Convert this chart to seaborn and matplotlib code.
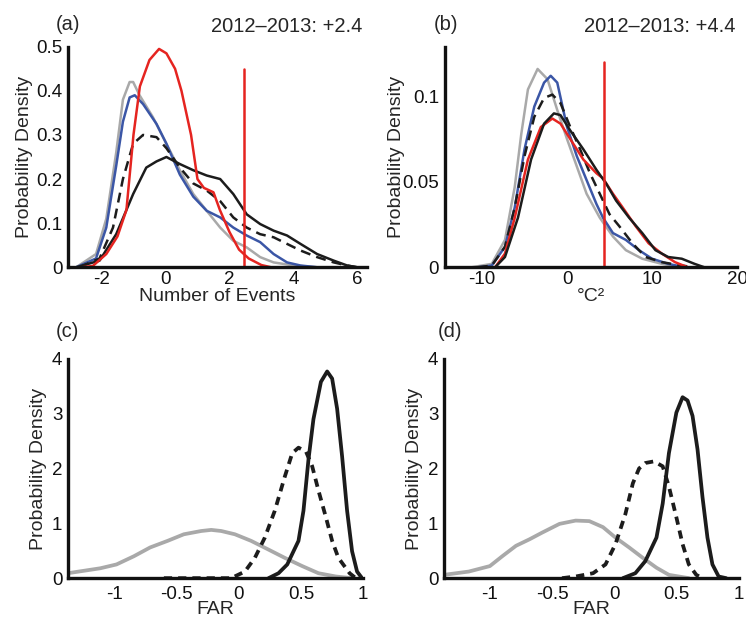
import matplotlib
matplotlib.use("Agg")
import matplotlib.pyplot as plt
import seaborn as sns

# panel (a): number of events
a_red_x = [-2.6, -2.27, -1.85, -1.5, -1.22, -1.0, -0.8, -0.5, -0.2, 0.03, 0.3, 0.5, 0.8, 1.0, 1.2, 1.5, 1.7, 2.0, 2.3, 2.6, 3.0, 3.3]
a_red_y = [0.0, 0.003, 0.03, 0.07, 0.13, 0.30, 0.41, 0.47, 0.495, 0.485, 0.45, 0.40, 0.30, 0.20, 0.18, 0.17, 0.13, 0.08, 0.04, 0.02, 0.005, 0.0]
a_gray_x = [-2.79, -2.17, -1.85, -1.54, -1.33, -1.12, -1.01, -0.81, -0.39, 0.03, 0.45, 0.87, 1.29, 1.71, 2.12, 2.54, 2.96, 3.38, 4.01, 4.74]
a_gray_y = [0.0, 0.03, 0.11, 0.26, 0.38, 0.42, 0.42, 0.39, 0.34, 0.28, 0.22, 0.166, 0.128, 0.09, 0.06, 0.045, 0.023, 0.011, 0.004, 0.0]
a_blue_x = [-2.79, -2.17, -1.85, -1.54, -1.33, -1.12, -0.96, -0.7, -0.28, 0.03, 0.45, 0.87, 1.29, 1.71, 2.12, 2.54, 2.96, 3.38, 3.8, 4.22, 4.74]
a_blue_y = [0.0, 0.02, 0.09, 0.23, 0.33, 0.385, 0.39, 0.37, 0.325, 0.28, 0.21, 0.16, 0.128, 0.113, 0.09, 0.072, 0.057, 0.03, 0.011, 0.004, 0.0]
a_dash_x = [-2.69, -2.06, -1.64, -1.33, -1.01, -0.70, -0.28, 0.03, 0.45, 0.87, 1.29, 1.71, 2.12, 2.54, 2.96, 3.38, 3.8, 4.22, 4.74, 5.26, 5.68, 5.99]
a_dash_y = [0.0, 0.02, 0.09, 0.20, 0.28, 0.30, 0.295, 0.27, 0.226, 0.19, 0.174, 0.15, 0.113, 0.09, 0.075, 0.068, 0.053, 0.038, 0.023, 0.011, 0.004, 0.0]
a_black_x = [-2.79, -2.06, -1.54, -1.01, -0.60, -0.28, 0.03, 0.45, 0.87, 1.29, 1.71, 2.12, 2.54, 2.96, 3.38, 3.8, 4.22, 4.74, 5.26, 5.68, 5.99]
a_black_y = [0.0, 0.015, 0.075, 0.166, 0.226, 0.24, 0.25, 0.234, 0.22, 0.208, 0.20, 0.166, 0.12, 0.098, 0.083, 0.072, 0.053, 0.03, 0.015, 0.004, 0.0]
a_obs = 2.45
a_obs_top = 0.45

# panel (b): degrees C squared
b_gray_x = [-11.2, -8.85, -7.3, -6.15, -5.38, -4.6, -3.46, -2.3, -1.15, 0.0, 1.15, 2.3, 3.85, 5.4, 6.92, 8.85, 11.15, 13.5]
b_gray_y = [0.0, 0.002, 0.016, 0.047, 0.078, 0.104, 0.116, 0.11, 0.092, 0.075, 0.059, 0.043, 0.029, 0.018, 0.01, 0.005, 0.002, 0.0]
b_blue_x = [-10.5, -8.85, -7.3, -6.15, -5.0, -3.85, -2.7, -1.92, -1.15, 0.0, 1.15, 2.3, 3.46, 4.23, 5.4, 6.92, 8.46, 10.0, 11.9, 13.85]
b_blue_y = [0.0, 0.001, 0.012, 0.035, 0.069, 0.094, 0.108, 0.112, 0.108, 0.082, 0.065, 0.051, 0.037, 0.029, 0.02, 0.016, 0.01, 0.005, 0.002, 0.0]
b_dash_x = [-10.5, -8.85, -7.3, -6.15, -5.0, -3.85, -2.7, -1.73, -0.77, 0.38, 1.54, 2.7, 3.85, 5.0, 6.15, 7.7, 9.23, 11.15, 13.5, 15.0]
b_dash_y = [0.0, 0.001, 0.012, 0.035, 0.065, 0.088, 0.099, 0.101, 0.096, 0.082, 0.069, 0.055, 0.043, 0.031, 0.024, 0.014, 0.006, 0.003, 0.001, 0.0]
b_red_x = [-8.46, -7.3, -6.15, -4.6, -3.08, -1.73, -0.77, 0.38, 1.92, 3.46, 4.23, 5.4, 6.54, 8.08, 9.6, 11.15, 12.7, 14.2]
b_red_y = [0.0, 0.008, 0.029, 0.063, 0.082, 0.087, 0.084, 0.075, 0.063, 0.055, 0.052, 0.043, 0.035, 0.024, 0.014, 0.008, 0.003, 0.0]
b_black_x = [-8.46, -7.3, -5.77, -4.23, -2.7, -1.54, -0.77, 0.38, 1.92, 3.46, 4.6, 5.77, 7.3, 8.85, 10.4, 11.9, 13.5, 15.0, 16.15]
b_black_y = [0.0, 0.006, 0.029, 0.063, 0.084, 0.09, 0.089, 0.08, 0.069, 0.057, 0.049, 0.039, 0.029, 0.02, 0.01, 0.006, 0.005, 0.002, 0.0]
b_obs = 4.3
b_obs_top = 0.12

# panel (c): FAR
c_gray_x = [-1.37, -1.11, -0.98, -0.84, -0.71, -0.57, -0.44, -0.30, -0.22, -0.14, -0.03, 0.10, 0.24, 0.37, 0.51, 0.64, 0.78, 0.91]
c_gray_y = [0.09, 0.18, 0.25, 0.40, 0.56, 0.68, 0.80, 0.86, 0.88, 0.86, 0.80, 0.68, 0.52, 0.37, 0.22, 0.09, 0.03, 0.0]
c_dash_x = [-0.6, -0.06, 0.05, 0.13, 0.21, 0.29, 0.37, 0.43, 0.48, 0.54, 0.59, 0.64, 0.70, 0.75, 0.80, 0.89, 0.94]
c_dash_y = [0.0, 0.0, 0.12, 0.37, 0.74, 1.23, 1.85, 2.28, 2.38, 2.31, 2.04, 1.60, 1.11, 0.68, 0.37, 0.09, 0.0]
c_black_x = [0.24, 0.32, 0.39, 0.44, 0.48, 0.52, 0.56, 0.60, 0.66, 0.71, 0.75, 0.79, 0.83, 0.87, 0.91, 0.95, 0.99]
c_black_y = [0.0, 0.09, 0.25, 0.49, 0.68, 1.23, 2.16, 2.90, 3.58, 3.77, 3.64, 3.09, 2.22, 1.23, 0.49, 0.12, 0.0]

# panel (d): FAR
d_gray_x = [-1.37, -1.17, -1.0, -0.9, -0.79, -0.68, -0.58, -0.44, -0.31, -0.20, -0.09, 0.01, 0.12, 0.23, 0.34, 0.44, 0.60]
d_gray_y = [0.06, 0.12, 0.22, 0.40, 0.59, 0.71, 0.83, 0.99, 1.05, 1.04, 0.93, 0.74, 0.56, 0.37, 0.19, 0.06, 0.0]
d_dash_x = [-0.42, -0.31, -0.17, -0.07, 0.01, 0.09, 0.15, 0.20, 0.25, 0.32, 0.39, 0.44, 0.50, 0.55, 0.60, 0.66, 0.71]
d_dash_y = [0.0, 0.03, 0.09, 0.25, 0.62, 1.17, 1.73, 2.0, 2.1, 2.13, 2.04, 1.67, 1.11, 0.62, 0.25, 0.06, 0.0]
d_black_x = [0.07, 0.17, 0.25, 0.34, 0.39, 0.44, 0.50, 0.55, 0.59, 0.63, 0.67, 0.71, 0.75, 0.79, 0.84, 0.90]
d_black_y = [0.0, 0.09, 0.31, 0.74, 1.36, 2.28, 3.02, 3.30, 3.24, 2.96, 2.35, 1.48, 0.74, 0.25, 0.03, 0.0]

RED = "#e52420"
BLUE = "#3b56a6"
GRAY = "#a9a9a9"
BLACK = "#1c1c1c"

sns.set_style("white")
plt.rcParams["font.family"] = ["Liberation Sans", "DejaVu Sans"]
plt.rcParams["axes.unicode_minus"] = False

fig = plt.figure(figsize=(7.46, 6.23), dpi=100)
ax_a = fig.add_axes([0.091, 0.571, 0.401, 0.354])
ax_b = fig.add_axes([0.596, 0.571, 0.392, 0.354])
ax_c = fig.add_axes([0.091, 0.072, 0.396, 0.352])
ax_d = fig.add_axes([0.595, 0.072, 0.395, 0.352])


def style_axis(ax, ylab_x, xlab_y, xpad):
    for side in ["top", "right"]:
        ax.spines[side].set_visible(False)
    for side in ["left", "bottom"]:
        ax.spines[side].set_linewidth(2.4)
        ax.spines[side].set_color("#111111")
    ax.tick_params(length=0, labelsize=13.5, colors="#111111")
    ax.tick_params(axis="x", pad=xpad)
    ax.tick_params(axis="y", pad=4)
    ax.set_ylabel("Probability Density", fontsize=14)
    ax.yaxis.set_label_coords(ylab_x, 0.5)
    ax.xaxis.label.set_va("center")
    ax.xaxis.set_label_coords(0.5, xlab_y)


lw = 1.8
sns.lineplot(x=a_gray_x, y=a_gray_y, ax=ax_a, color=GRAY, linewidth=lw)
sns.lineplot(x=a_blue_x, y=a_blue_y, ax=ax_a, color=BLUE, linewidth=lw)
sns.lineplot(x=a_dash_x, y=a_dash_y, ax=ax_a, color=BLACK, linewidth=lw, linestyle=(0, (4, 2.5)))
sns.lineplot(x=a_black_x, y=a_black_y, ax=ax_a, color=BLACK, linewidth=lw)
sns.lineplot(x=a_red_x, y=a_red_y, ax=ax_a, color=RED, linewidth=lw)
ax_a.plot([a_obs, a_obs], [0, a_obs_top], color=RED, linewidth=1.8)
ax_a.set_xlim(-3.05, 6.3)
ax_a.set_ylim(0, 0.5)
ax_a.set_xticks([-2, 0, 2, 4, 6])
ax_a.set_yticks([0, 0.1, 0.2, 0.3, 0.4, 0.5])
ax_a.set_yticklabels(["0", "0.1", "0.2", "0.3", "0.4", "0.5"])
ax_a.set_xlabel("Number of Events", fontsize=14)
style_axis(ax_a, -0.117, -0.133, 3)

sns.lineplot(x=b_gray_x, y=b_gray_y, ax=ax_b, color=GRAY, linewidth=lw)
sns.lineplot(x=b_blue_x, y=b_blue_y, ax=ax_b, color=BLUE, linewidth=lw)
sns.lineplot(x=b_dash_x, y=b_dash_y, ax=ax_b, color=BLACK, linewidth=lw, linestyle=(0, (4, 2.5)))
sns.lineplot(x=b_red_x, y=b_red_y, ax=ax_b, color=RED, linewidth=lw)
sns.lineplot(x=b_black_x, y=b_black_y, ax=ax_b, color=BLACK, linewidth=lw)
ax_b.plot([b_obs, b_obs], [0, b_obs_top], color=RED, linewidth=1.8)
ax_b.set_xlim(-14.4, 20.0)
ax_b.set_ylim(0, 0.129)
ax_b.set_xticks([-10, 0, 10, 20])
ax_b.set_yticks([0, 0.05, 0.1])
ax_b.set_yticklabels(["0", "0.05", "0.1"])
ax_b.set_xlabel("°C²", fontsize=14)
style_axis(ax_b, -0.137, -0.133, 3)

lw2 = 2.7
for ax, gx, gy, dx, dy, kx, ky in [
    (ax_c, c_gray_x, c_gray_y, c_dash_x, c_dash_y, c_black_x, c_black_y),
    (ax_d, d_gray_x, d_gray_y, d_dash_x, d_dash_y, d_black_x, d_black_y),
]:
    sns.lineplot(x=gx, y=gy, ax=ax, color=GRAY, linewidth=lw2)
    sns.lineplot(x=dx, y=dy, ax=ax, color=BLACK, linewidth=lw2, linestyle=(0, (2.2, 1.6)))
    sns.lineplot(x=kx, y=ky, ax=ax, color=BLACK, linewidth=lw2)
    ax.set_xlim(-1.37, 1.0)
    ax.set_ylim(0, 4)
    ax.set_xticks([-1, -0.5, 0, 0.5, 1])
    ax.set_xticklabels(["-1", "-0.5", "0", "0.5", "1"])
    ax.set_yticks([0, 1, 2, 3, 4])
    ax.set_xlabel("FAR", fontsize=14)
    style_axis(ax, -0.071, -0.142, 6)

fig.text(0.075, 0.96, "(a)", fontsize=14.5, va="center")
fig.text(0.486, 0.958, "2012–2013: +2.4", fontsize=14.5, va="center", ha="right")
fig.text(0.581, 0.96, "(b)", fontsize=14.5, va="center")
fig.text(0.986, 0.958, "2012–2013: +4.4", fontsize=14.5, va="center", ha="right")
fig.text(0.075, 0.468, "(c)", fontsize=14.5, va="center")
fig.text(0.587, 0.468, "(d)", fontsize=14.5, va="center")

fig.savefig("out.png", dpi=100, facecolor="white")
